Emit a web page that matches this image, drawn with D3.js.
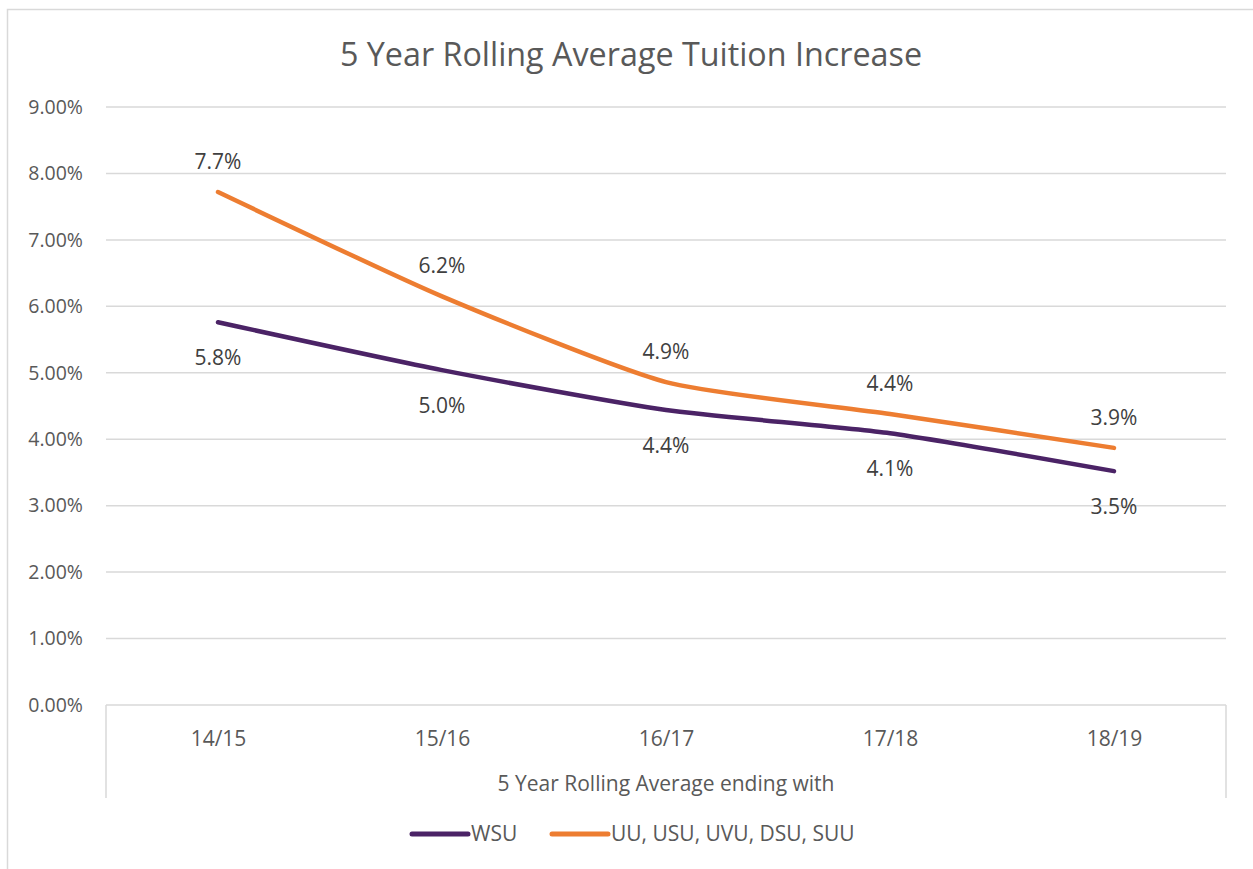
<!DOCTYPE html>
<html>
<head>
<meta charset="utf-8">
<script src="https://cdn.jsdelivr.net/npm/d3@7"></script>
<style>
  body { margin: 0; background: #fff; }
  svg text { font-family: "Open Sans", sans-serif; fill: #595959; }
</style>
</head>
<body>
<div id="container"></div>
<script>
const categories = ["14/15", "15/16", "16/17", "17/18", "18/19"];
const wsu = [5.76, 5.04, 4.44, 4.09, 3.52];
const others = [7.72, 6.15, 4.86, 4.38, 3.87];
const yTicks = [0, 1, 2, 3, 4, 5, 6, 7, 8, 9];
const seriesNames = ["WSU", "UU, USU, UVU, DSU, SUU"];
const colors = ["#4b2366", "#ed7d31"];

const width = 1253;
const height = 869;
const plot = { left: 106, right: 1226, top: 107, bottom: 705 };

const svg = d3.select("#container").append("svg")
    .attr("width", width)
    .attr("height", height);

// chart frame
svg.append("rect")
    .attr("x", 7.5).attr("y", 9.5)
    .attr("width", 1300).attr("height", 1000)
    .attr("fill", "none")
    .attr("stroke", "#d9d9d9")
    .attr("stroke-width", 1.5);

const xScale = d3.scalePoint().domain(categories)
    .range([plot.left, plot.right]).padding(0.5);
const yScale = d3.scaleLinear().domain([0, 9])
    .range([plot.bottom, plot.top]);

// title
svg.append("text")
    .attr("x", 631).attr("y", 53)
    .attr("text-anchor", "middle")
    .attr("dominant-baseline", "central")
    .style("font-size", "32.3px")
    .text("5 Year Rolling Average Tuition Increase");

// gridlines
svg.append("g").selectAll("line").data(yTicks).join("line")
    .attr("x1", plot.left).attr("x2", plot.right)
    .attr("y1", d => yScale(d)).attr("y2", d => yScale(d))
    .attr("stroke", "#d9d9d9").attr("stroke-width", 1.5);

// y axis labels
const yaxis = d3.axisLeft(yScale)
    .tickValues(yTicks)
    .tickFormat(d => d.toFixed(2) + "%")
    .tickSize(0).tickPadding(23);
const yg = svg.append("g")
    .attr("transform", "translate(" + plot.left + ",0)")
    .call(yaxis);
yg.select(".domain").remove();
yg.selectAll("text").style("font-size", "19.5px").attr("fill", "#595959");

// x axis labels
const xaxis = d3.axisBottom(xScale).tickSize(0).tickPadding(0);
const xg = svg.append("g")
    .attr("transform", "translate(0," + plot.bottom + ")")
    .call(xaxis);
xg.select(".domain").remove();
xg.selectAll("text")
    .attr("dy", null).attr("y", 33)
    .attr("dominant-baseline", "central")
    .style("font-size", "21px").attr("fill", "#595959");

// axis bracket lines
[plot.left, plot.right].forEach(x => {
  svg.append("line")
      .attr("x1", x).attr("x2", x)
      .attr("y1", plot.bottom).attr("y2", 798)
      .attr("stroke", "#d9d9d9").attr("stroke-width", 1.5);
});

svg.append("text")
    .attr("x", (plot.left + plot.right) / 2).attr("y", 783)
    .attr("text-anchor", "middle")
    .attr("dominant-baseline", "central")
    .style("font-size", "21px")
    .text("5 Year Rolling Average ending with");

// lines
const line = d3.line()
    .x((d, i) => xScale(categories[i]))
    .y(d => yScale(d))
    .curve(d3.curveCardinal.tension(0.4));

const seriesData = [wsu, others];
seriesData.forEach((vals, s) => {
  svg.append("path")
      .attr("d", line(vals))
      .attr("fill", "none")
      .attr("stroke", colors[s])
      .attr("stroke-width", 4.5)
      .attr("stroke-linecap", "round")
      .attr("stroke-linejoin", "round");
});

// data labels: orange above, purple below
seriesData.forEach((vals, s) => {
  svg.append("g").selectAll("text").data(vals).join("text")
      .attr("x", (d, i) => xScale(categories[i]))
      .attr("y", d => yScale(d) + (s === 0 ? 35 : -31))
      .attr("text-anchor", "middle")
      .attr("dominant-baseline", "central")
      .style("font-size", "21px")
      .style("fill", "#404040")
      .text(d => d.toFixed(1) + "%");
});

// legend
const legend = [{ x: 412, name: seriesNames[0] }, { x: 552, name: seriesNames[1] }];
legend.forEach((l, s) => {
  svg.append("line")
      .attr("x1", l.x).attr("x2", l.x + 56)
      .attr("y1", 834).attr("y2", 834)
      .attr("stroke", colors[s]).attr("stroke-width", 5)
      .attr("stroke-linecap", "round");
  svg.append("text")
      .attr("x", l.x + 59).attr("y", 833)
      .attr("dominant-baseline", "central")
      .style("font-size", "21px")
      .text(l.name);
});
</script>
</body>
</html>
